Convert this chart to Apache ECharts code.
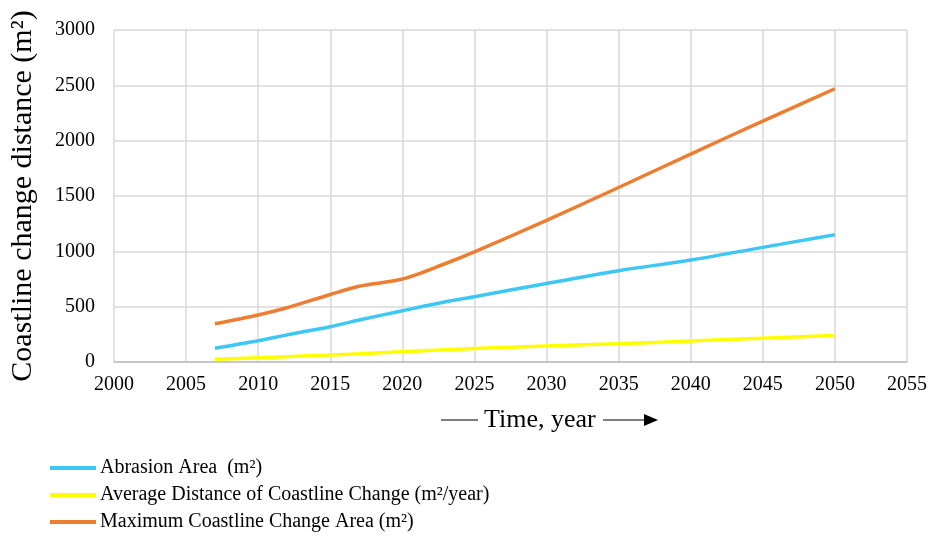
<!DOCTYPE html>
<html>
<head>
<meta charset="utf-8">
<script src="https://cdn.jsdelivr.net/npm/echarts@6/dist/echarts.min.js"></script>
<style>
  html, body { margin: 0; padding: 0; background: #fff; }
  #chart { width: 931px; height: 541px; }
</style>
</head>
<body>
<div id="chart"></div>
<script>
// values
const years = [2007, 2010, 2012, 2015, 2017, 2020, 2023, 2025, 2030, 2035, 2040, 2045, 2050];
const abrasion = [124, 192, 245, 319, 379, 463, 545, 590, 710, 825, 921, 1036, 1150];
const avgDistance = [25, 38, 48, 63, 74, 92, 110, 122, 145, 165, 190, 215, 240];
const maxArea = [345, 425, 490, 610, 685, 750, 890, 995, 1280, 1577, 1879, 2177, 2469];

const seriesNames = [
  'Abrasion Area  (m²)',
  'Average Distance of Coastline Change (m²/year)',
  'Maximum Coastline Change Area (m²)'
];
const colors = ['#3ec6f4', '#ffff00', '#ed7d31'];

const pairs = vals => years.map((y, i) => [y, vals[i]]);

const chart = echarts.init(document.getElementById('chart'));
const serif = '"Liberation Serif", "Times New Roman", serif';

const mkLine = (name, vals, color) => ({
  name: name,
  type: 'line',
  data: pairs(vals),
  smooth: 0.3,
  showSymbol: false,
  symbol: 'none',
  lineStyle: { color: color, width: 3.5 },
  itemStyle: { color: color }
});

chart.setOption({
  animation: false,
  backgroundColor: '#fff',
  grid: { left: 114, right: 24, top: 30, bottom: 179 },
  xAxis: {
    type: 'value',
    min: 2000, max: 2055, interval: 5,
    axisLine: { show: true, lineStyle: { color: '#bfbfbf', width: 1.5 } },
    axisTick: { show: false },
    splitLine: { show: true, lineStyle: { color: '#d9d9d9', width: 1.5 } },
    axisLabel: { color: '#000', fontFamily: serif, fontSize: 20, margin: 13, formatter: v => String(v) }
  },
  yAxis: {
    type: 'value',
    min: 0, max: 3000, interval: 500,
    name: 'Coastline change distance (m²)',
    nameLocation: 'middle',
    nameGap: 76,
    nameTextStyle: { color: '#000', fontFamily: serif, fontSize: 30 },
    axisLine: { show: false },
    axisTick: { show: false },
    splitLine: { show: true, lineStyle: { color: '#d9d9d9', width: 1.5 } },
    axisLabel: { color: '#000', fontFamily: serif, fontSize: 20, margin: 19, formatter: v => String(v) }
  },
  legend: {
    orient: 'vertical',
    left: 45, top: 452,
    itemWidth: 46, itemHeight: 4,
    itemGap: 5,
    icon: 'rect',
    textStyle: { color: '#000', fontFamily: serif, fontSize: 20, lineHeight: 22, padding: [0, 0, 0, -1] },
    data: seriesNames
  },
  graphic: [
    { type: 'line', shape: { x1: 441, y1: 420, x2: 478, y2: 420 }, style: { stroke: '#000', lineWidth: 1.2 } },
    { type: 'text', left: 484, top: 407, style: { text: 'Time, year', fill: '#000', font: '26px ' + serif } },
    { type: 'line', shape: { x1: 603, y1: 420, x2: 646, y2: 420 }, style: { stroke: '#000', lineWidth: 1.2 } },
    { type: 'polygon', shape: { points: [[644, 414], [658, 420], [644, 426]] }, style: { fill: '#000' } }
  ],
  series: [
    mkLine(seriesNames[0], abrasion, colors[0]),
    mkLine(seriesNames[1], avgDistance, colors[1]),
    mkLine(seriesNames[2], maxArea, colors[2])
  ]
});
</script>
</body>
</html>
